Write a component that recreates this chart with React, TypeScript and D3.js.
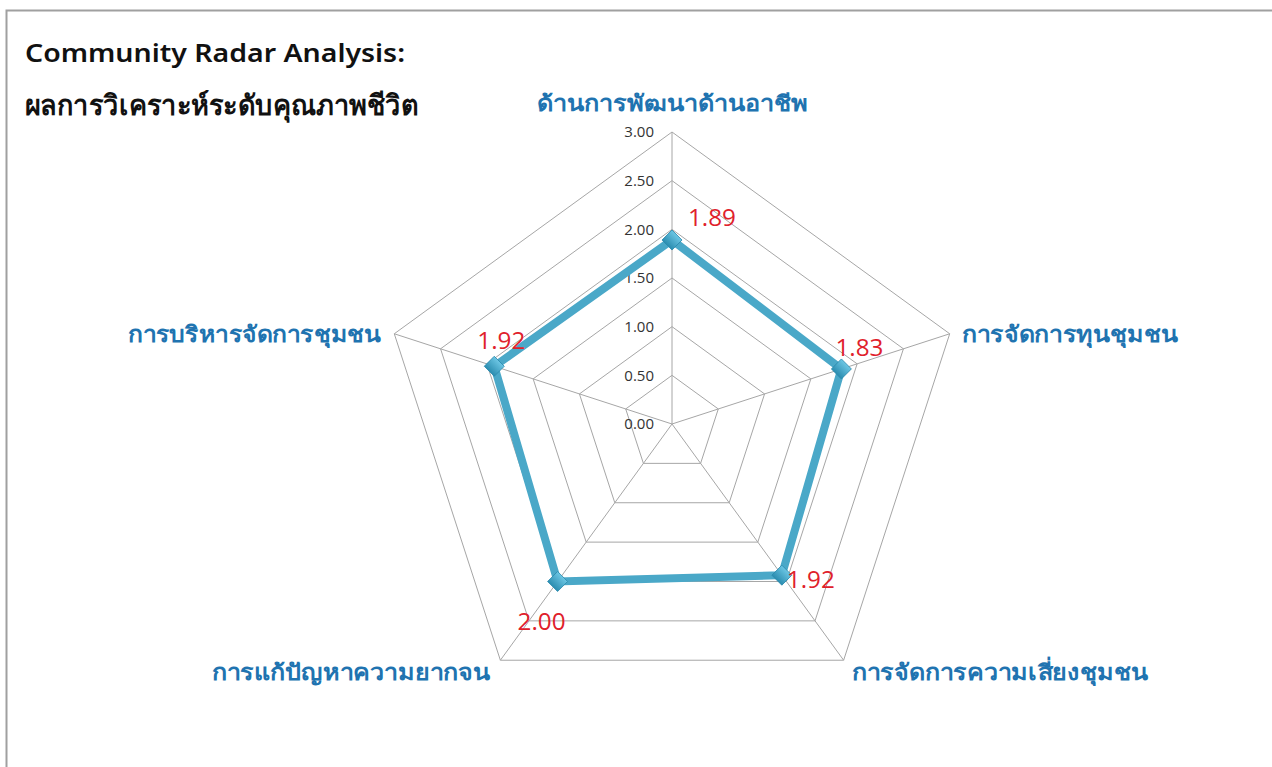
import React, { useEffect, useRef } from "react";
import * as d3 from "d3";

const categories = [
  "ด้านการพัฒนาด้านอาชีพ",
  "การจัดการทุนชุมชน",
  "การจัดการความเสี่ยงชุมชน",
  "การแก้ปัญหาความยากจน",
  "การบริหารจัดการชุมชน",
];
const values = [1.89, 1.83, 1.92, 2.0, 1.92];
const tickValues = [0, 0.5, 1, 1.5, 2, 2.5, 3];
const titleLines = ["Community Radar Analysis:", "ผลการวิเคราะห์ระดับคุณภาพชีวิต"];

const W = 1272;
const H = 767;
const CX = 672;
const CY = 424;
const R = 292;

export default function App() {
  const ref = useRef<SVGSVGElement | null>(null);
  useEffect(() => {
    const svg = d3.select(ref.current);
    svg.selectAll("*").remove();
    const n = categories.length;
    const r = d3.scaleLinear().domain([0, 3]).range([0, R]);
    const ang = (i: number) => (i * 2 * Math.PI) / n;
    const pt = (i: number, v: number): [number, number] => [
      CX + r(v) * Math.sin(ang(i)),
      CY - r(v) * Math.cos(ang(i)),
    ];

    svg.append("rect").attr("x", 6.5).attr("y", 10.5).attr("width", W).attr("height", H)
      .attr("fill", "white").attr("stroke", "#a0a0a0").attr("stroke-width", 2);

    const defs = svg.append("defs");
    const grad = defs.append("linearGradient").attr("id", "mk").attr("x1", "0").attr("y1", "0").attr("x2", "0").attr("y2", "1");
    grad.append("stop").attr("offset", "0%").attr("stop-color", "#6cc6e4");
    grad.append("stop").attr("offset", "100%").attr("stop-color", "#2b8db0");

    const g = svg.append("g");
    // rings
    tickValues.slice(1).forEach((t) => {
      const pts = d3.range(n).map((i) => pt(i, t));
      g.append("path").attr("d", d3.line()([...pts, pts[0]]) as string)
        .attr("fill", "none").attr("stroke", "#a6a6a6").attr("stroke-width", 1);
    });
    // spokes
    d3.range(n).forEach((i) => {
      const [x, y] = pt(i, 3);
      g.append("line").attr("x1", CX).attr("y1", CY).attr("x2", x).attr("y2", y)
        .attr("stroke", "#a6a6a6").attr("stroke-width", 1);
    });
    // tick labels
    tickValues.forEach((t) => {
      g.append("text").attr("x", CX - 18).attr("y", CY - r(t)).attr("dy", "0.35em")
        .attr("text-anchor", "end").attr("font-size", 15).attr("fill", "#333")
        .attr("font-family", "'Open Sans', sans-serif").text(t.toFixed(2));
    });
    // category labels
    const labelPos: { x: number; y: number; anchor: string; w: number }[] = [
      { x: 537, y: 103, anchor: "start", w: 271 },
      { x: 962, y: 334, anchor: "start", w: 216 },
      { x: 852, y: 672, anchor: "start", w: 296 },
      { x: 212, y: 672, anchor: "start", w: 278 },
      { x: 128, y: 334, anchor: "start", w: 253 },
    ];
    categories.forEach((c, i) => {
      g.append("text").attr("x", labelPos[i].x).attr("y", labelPos[i].y).attr("dy", "0.35em")
        .attr("text-anchor", labelPos[i].anchor).attr("font-size", 22).attr("font-weight", 600)
        .attr("fill", "#2073b0")
        .attr("textLength", labelPos[i].w).attr("lengthAdjust", "spacingAndGlyphs")
        .attr("font-family", "Tahoma, 'Noto Sans', sans-serif").text(c);
    });
    // series line
    const pts = values.map((v, i) => pt(i, v));
    g.append("path").attr("d", d3.line()([...pts, pts[0]]) as string)
      .attr("fill", "none").attr("stroke", "#4aa8c8").attr("stroke-width", 8)
      .attr("stroke-linejoin", "miter");
    // markers
    pts.forEach(([x, y]) => {
      g.append("path").attr("d", d3.symbol().type(d3.symbolSquare).size(200)() as string)
        .attr("transform", `translate(${x},${y}) rotate(45)`)
        .attr("fill", "url(#mk)").attr("stroke", "#2a8aae").attr("stroke-width", 0.8);
    });
    // data labels
    const off: [number, number][] = [[16, -22], [-6, -21], [5, 5], [-40, 40], [-17, -25]];
    pts.forEach(([x, y], i) => {
      g.append("text").attr("x", x + off[i][0]).attr("y", y + off[i][1]).attr("dy", "0.35em")
        .attr("text-anchor", "start").attr("font-size", 23).attr("fill", "#e0212b")
        .attr("textLength", 48).attr("lengthAdjust", "spacingAndGlyphs")
        .attr("font-family", "'Open Sans', sans-serif").text(values[i].toFixed(2));
    });
    // title
    g.append("text").attr("x", 25).attr("y", 62).attr("font-size", 26).attr("font-weight", "600")
      .attr("fill", "#111").attr("textLength", 380).attr("lengthAdjust", "spacingAndGlyphs")
      .attr("font-family", "'Noto Sans', sans-serif").text(titleLines[0]);
    g.append("text").attr("x", 25).attr("y", 115).attr("font-size", 28).attr("font-weight", "bold")
      .attr("fill", "#111").attr("textLength", 393).attr("lengthAdjust", "spacingAndGlyphs")
      .attr("font-family", "'Noto Sans', sans-serif").text(titleLines[1]);
  }, []);
  return (
    <svg ref={ref} width={W} height={H} style={{ position: "absolute", left: 0, top: 0 }} />
  );
}
